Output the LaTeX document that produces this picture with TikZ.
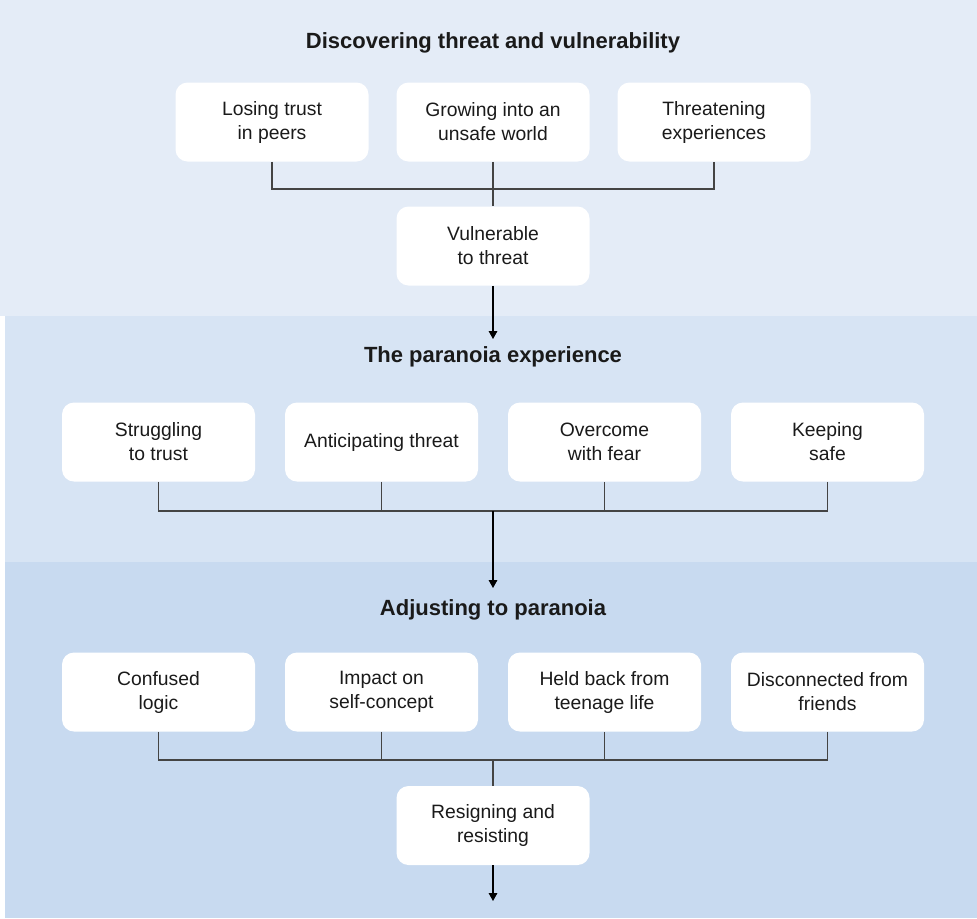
\documentclass[tikz,border=0pt]{standalone}
\usepackage{fontspec}
\setmainfont{Liberation Sans}
\usetikzlibrary{arrows.meta}

\newcommand{\themewidth}[0]{144.75pt}
\newcommand{\themeheight}[0]{59.25pt}
\definecolor{bandtop}{RGB}{228,236,247}
\definecolor{bandmid}{RGB}{215,228,244}
\definecolor{bandlow}{RGB}{200,218,240}
\definecolor{linkgray}{RGB}{68,68,68}
\definecolor{textdark}{RGB}{26,26,26}

\tikzstyle{link} = [draw=linkgray,line width=0.8pt]
\tikzstyle{dedge} = [-{Triangle[length=6pt,width=6.5pt]},draw=black,line width=0.8pt]
\tikzstyle{base}=[
  align=center,
  anchor=center,
  text=textdark,
]
\tikzstyle{theme}=[
  base,
  fill=white,
  rounded corners=9pt,
  minimum width=\themewidth,
  minimum height=\themeheight,
  font=\fontsize{14.5}{18}\selectfont,
]
\tikzstyle{heading}=[
  base,
  font=\fontsize{16.5}{20}\selectfont\bfseries,
]

\begin{document}
\begin{tikzpicture}[x=0.75pt,y=-0.75pt]
  \useasboundingbox (0,0) rectangle (977,918);
  \fill[bandtop] (0,0) rectangle (977,316);
  \fill[bandmid] (5,316) rectangle (977,562);
  \fill[bandlow] (5,562) rectangle (977,918);

  % discovering threat
  \node[heading] (title1) at (493,43) {Discovering threat and vulnerability};
  \node[theme] (grow) at (493,122) {Growing into an\\unsafe world};
  \node[theme] (losing) at ([xshift=-165.75pt] grow.center) {Losing trust\\in peers};
  \node[theme] (threaten) at ([xshift=165.75pt] grow.center) {Threatening\\experiences};
  \node[theme] (vuln) at (493,246) {Vulnerable\\to threat};
  \coordinate (joinA) at (493,189);
  \coordinate (tipA) at (493,339);
  \draw[link] (losing.south) |- (joinA);
  \draw[link] (threaten.south) |- (joinA);
  \draw[link] (grow.south) -- (vuln.north);
  \draw[dedge] (vuln.south) -- (tipA);

  % paranoia experience
  \node[heading] (title2) at (493,357) {The paranoia experience};
  \coordinate (rowB) at (493,442);
  \node[theme] (struggle) at ([xshift=-250.875pt] rowB) {Struggling\\to trust};
  \node[theme] (anticip) at ([xshift=-83.625pt] rowB) {Anticipating threat};
  \node[theme] (overcome) at ([xshift=83.625pt] rowB) {Overcome\\with fear};
  \node[theme] (keeping) at ([xshift=250.875pt] rowB) {Keeping\\safe};
  \coordinate (joinB) at (493,511);
  \coordinate (tipB) at (493,588);
  \foreach \n in {struggle,anticip,overcome,keeping}
    \draw[link] (\n.south) |- (joinB);
  \draw[dedge] (joinB) -- (tipB);

  % adjusting
  \node[heading] (title3) at (493,610) {Adjusting to paranoia};
  \coordinate (rowC) at (493,692);
  \node[theme] (confused) at ([xshift=-250.875pt] rowC) {Confused\\logic};
  \node[theme] (impact) at ([xshift=-83.625pt] rowC) {Impact on\\self-concept};
  \node[theme] (heldback) at ([xshift=83.625pt] rowC) {Held back from\\teenage life};
  \node[theme] (disconnect) at ([xshift=250.875pt] rowC) {Disconnected from\\friends};
  \node[theme] (resign) at (493,825.5) {Resigning and\\resisting};
  \coordinate (joinC) at (493,760);
  \coordinate (tipC) at (493,901);
  \foreach \n in {confused,impact,heldback,disconnect}
    \draw[link] (\n.south) |- (joinC);
  \draw[link] (joinC) -- (resign.north);
  \draw[dedge] (resign.south) -- (tipC);
\end{tikzpicture}
\end{document}
